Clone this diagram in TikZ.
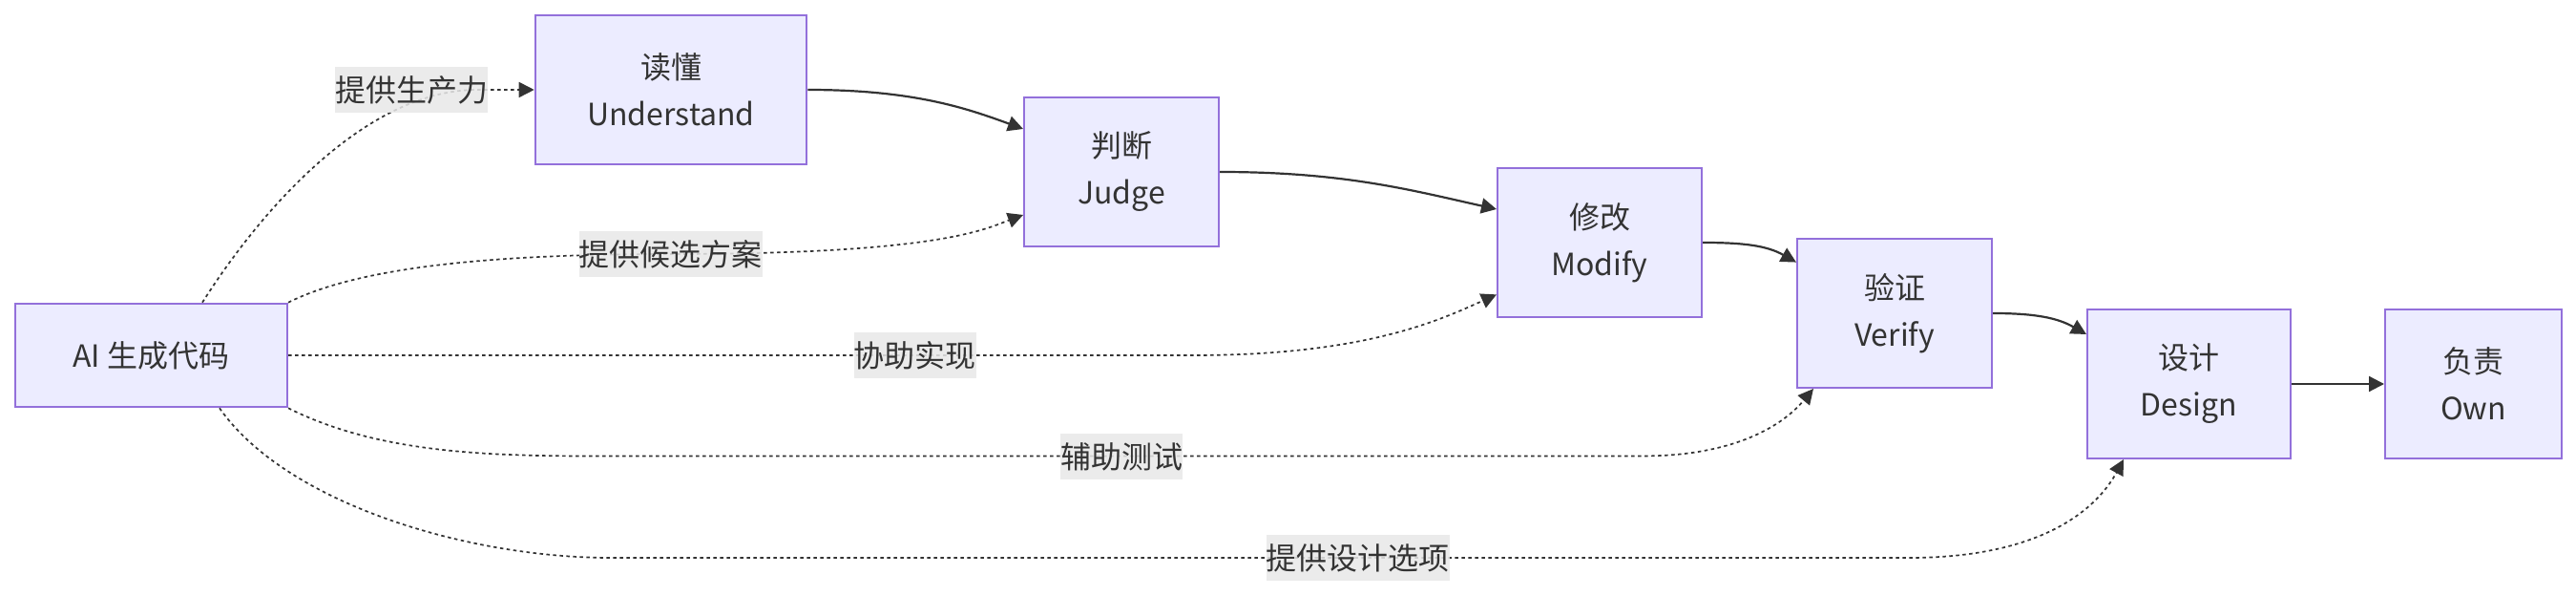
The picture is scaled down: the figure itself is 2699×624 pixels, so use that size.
\documentclass[tikz,border=0pt]{standalone}
\usepackage{fontspec}
\setmainfont{Noto Sans CJK SC}
\usetikzlibrary{arrows.meta}
\definecolor{nodefill}{HTML}{ECECFF}
\definecolor{nodeborder}{HTML}{9370DB}
\definecolor{ink}{HTML}{333333}
\definecolor{labelbg}{HTML}{E8E8E8}
\begin{document}
\begin{tikzpicture}[x=0.5pt,y=-0.5pt,
  box/.style={draw=nodeborder, fill=nodefill, line width=1pt, text=ink, align=center,
    font=\fontsize{16}{24.5}\selectfont, inner sep=0pt},
  flow/.style={draw=ink, line width=1.1pt, -{Triangle[length=8pt,width=8pt]}},
  help/.style={draw=ink, line width=0.85pt, dash pattern=on 1.75pt off 1.75pt,
    -{Triangle[length=8pt,width=8pt]}},
  elabel/.style={fill=labelbg, fill opacity=0.85, text opacity=1, text=ink,
    font=\fontsize{16}{20}\selectfont, inner xsep=0pt, inner ysep=0pt, minimum height=24pt}
]
\useasboundingbox (0,0) rectangle (2699,624);

% nodes
\node[box, minimum width=142.5pt, minimum height=54.3pt] (ai) at (158.5,372) {AI 生成代码};
\node[box, minimum width=142.3pt, minimum height=78pt] (und) at (703,94) {读懂\\Understand};
\node[box, minimum width=102pt, minimum height=78pt] (judge) at (1175,180) {判断\\Judge};
\node[box, minimum width=107pt, minimum height=78pt] (modify) at (1676,254) {修改\\Modify};
\node[box, minimum width=102pt, minimum height=78pt] (verify) at (1985,328) {验证\\Verify};
\node[box, minimum width=106.5pt, minimum height=78pt] (design) at (2293.5,402) {设计\\Design};
\node[box, minimum width=92.5pt, minimum height=78pt] (own) at (2591.5,402) {负责\\Own};

% waypoints
\coordinate (c1) at (500,94);
\coordinate (c2) at (702.5,266);
\coordinate (c3) at (1250,372);
\coordinate (c4) at (620,477.5);
\coordinate (c5) at (1720,477.5);
\coordinate (c6) at (640,584);
\coordinate (c7) at (2000,584);

% main flow
\draw[flow] (und.east) .. controls +(110,0) and +(-60,-22) .. ([yshift=22.5pt]judge.west);
\draw[flow] (judge.east) .. controls +(130,0) and +(-90,-20) .. ([yshift=17.5pt]modify.west);
\draw[flow] (modify.east) .. controls +(45,0) and +(-30,-17) .. ([yshift=26.7pt]verify.west);
\draw[flow] (verify.east) .. controls +(45,0) and +(-30,-17) .. ([yshift=26pt]design.west);
\draw[flow] (design.east) -- (own.west);

% AI helper edges
\draw[help] ([xshift=26.75pt]ai.north) .. controls +(70,-110) and +(-110,0) .. (c1) -- (und.west);
\draw[help] (ai.north east) .. controls +(70,-35) and +(-200,0) .. (c2)
  .. controls +(280,0) and +(-40,15) .. ([yshift=-22.5pt]judge.west);
\draw[help] (ai.east) -- (c3) .. controls +(180,0) and +(-60,27) .. ([yshift=-27.2pt]modify.west);
\draw[help] (ai.south east) .. controls +(90,45) and +(-120,0) .. (c4) -- (c5)
  .. controls +(110,0) and +(-25,30) .. ([xshift=-42.5pt]verify.south);
\draw[help] ([xshift=35.75pt]ai.south) .. controls +(70,100) and +(-150,0) .. (c6) -- (c7)
  .. controls +(135,0) and +(-30,55) .. ([xshift=-34.25pt]design.south);

% edge labels
\node[elabel] (l1) at (431,94) {提供生产力};
\node[elabel] (l2) at (702.5,266) {提供候选方案};
\node[elabel] (l3) at (958.5,372) {协助实现};
\node[elabel] (l4) at (1175,478) {辅助测试};
\node[elabel] (l5) at (1422.5,584) {提供设计选项};
\end{tikzpicture}
\end{document}
